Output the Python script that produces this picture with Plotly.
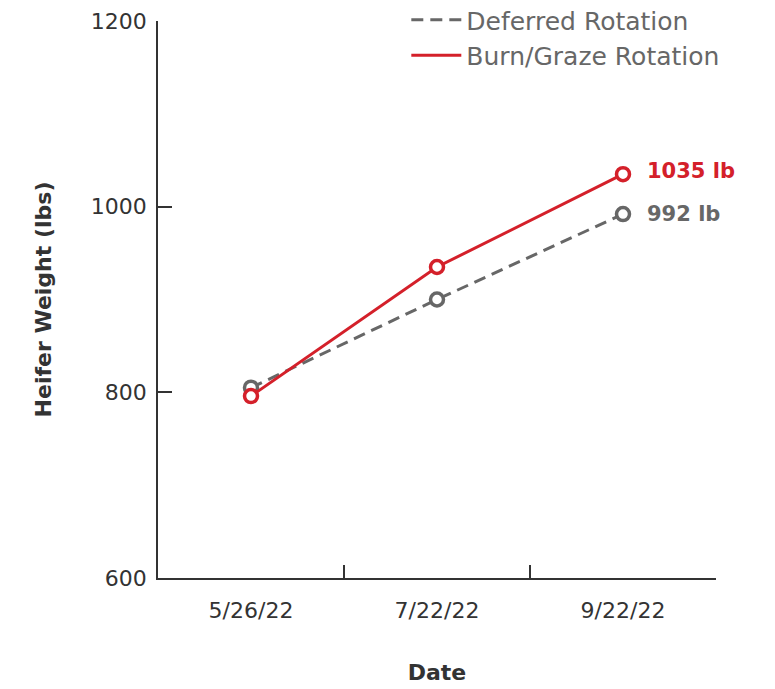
import plotly.graph_objects as go

dates = ["5/26/22", "7/22/22", "9/22/22"]
deferred = [805, 900, 992]
burn_graze = [796, 935, 1035]
series_names = ["Deferred Rotation", "Burn/Graze Rotation"]
end_labels = ["992 lb", "1035 lb"]

RED = "#d4202a"
GRAY = "#676767"
AXIS = "#333333"
FONT = "DejaVu Sans"

fig = go.Figure()
# data traces
fig.add_trace(go.Scatter(
    x=dates, y=deferred, name=series_names[0], mode="lines+markers", showlegend=False,
    line=dict(color=GRAY, width=3, dash="12px,7px"),
    marker=dict(symbol="circle", size=13, color="white", line=dict(color=GRAY, width=3.5)),
))
fig.add_trace(go.Scatter(
    x=dates, y=burn_graze, name=series_names[1], mode="lines+markers", showlegend=False,
    line=dict(color=RED, width=3),
    marker=dict(symbol="circle", size=13, color="white", line=dict(color=RED, width=3.5)),
))
# legend entries (lines only)
fig.add_trace(go.Scatter(x=[None], y=[None], name=series_names[0], mode="lines",
                         line=dict(color=GRAY, width=3, dash="12px,7px")))
fig.add_trace(go.Scatter(x=[None], y=[None], name=series_names[1], mode="lines",
                         line=dict(color=RED, width=3)))

fig.add_annotation(x=dates[-1], y=deferred[-1], text=end_labels[0], showarrow=False,
                   xanchor="left", xshift=22, font=dict(family=FONT, size=21, color=GRAY, weight="bold"))
fig.add_annotation(x=dates[-1], y=burn_graze[-1], text=end_labels[1], showarrow=False,
                   xanchor="left", xshift=22, yshift=3, font=dict(family=FONT, size=21, color=RED, weight="bold"))

fig.update_layout(
    width=767, height=681,
    margin=dict(l=150, r=59, t=13, b=111, autoexpand=False),
    paper_bgcolor="white", plot_bgcolor="white",
    font=dict(family=FONT, color=AXIS),
    showlegend=True,
    legend=dict(x=0.445, y=1.043, xanchor="left", yanchor="top",
                font=dict(family=FONT, size=25, color=GRAY),
                bgcolor="rgba(0,0,0,0)", itemwidth=50),
    xaxis=dict(
        type="category", range=[-0.5, 2.5], tickson="boundaries",
        ticks="inside", ticklen=13, tickwidth=1.5, tickcolor=AXIS,
        showline=True, linecolor=AXIS, linewidth=1.5, showgrid=False, zeroline=False,
        tickfont=dict(family=FONT, size=22, color=AXIS), ticklabelstandoff=12,
        title=dict(text="<b>Date</b>", font=dict(family=FONT, size=22, color=AXIS), standoff=42),
    ),
    yaxis=dict(
        range=[600, 1200], tickvals=[600, 800, 1000, 1200],
        ticks="inside", ticklen=14, tickwidth=1.5, tickcolor=AXIS,
        showline=True, linecolor=AXIS, linewidth=1.5, showgrid=False, zeroline=False,
        tickfont=dict(family=FONT, size=22, color=AXIS), ticklabelstandoff=5,
        title=dict(text="<b>Heifer Weight (lbs)</b>", font=dict(family=FONT, size=22, color=AXIS), standoff=33),
    ),
)

fig.write_html("out.html")
